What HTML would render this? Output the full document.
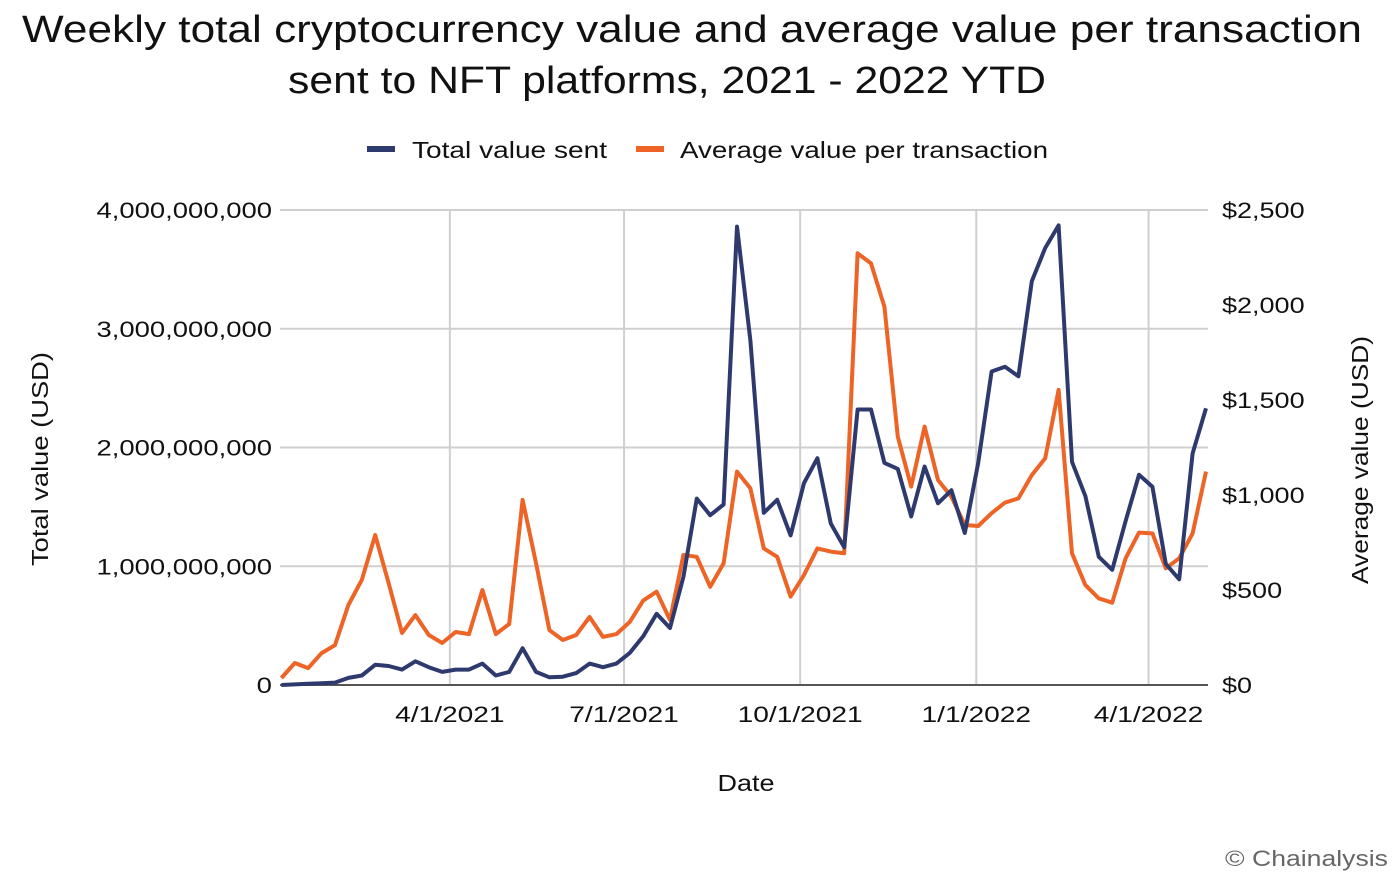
<!DOCTYPE html>
<html><head><meta charset="utf-8"><style>
body{margin:0;background:#fff;}
svg text{font-family:"Liberation Sans",sans-serif;fill:#111;}
</style></head><body>
<svg id="chart" width="1400" height="884" viewBox="0 0 1400 884" xmlns="http://www.w3.org/2000/svg">
<text x="22" y="42" font-size="38" textLength="1340" lengthAdjust="spacingAndGlyphs">Weekly total cryptocurrency value and average value per transaction</text>
<text x="288" y="93" font-size="38" textLength="758" lengthAdjust="spacingAndGlyphs">sent to NFT platforms, 2021 - 2022 YTD</text>
<g>
<rect x="367" y="146" width="28" height="6" fill="#2e3a6e"/>
<text x="412" y="158" font-size="23" textLength="195" lengthAdjust="spacingAndGlyphs">Total value sent</text>
<rect x="636" y="146" width="28" height="6" fill="#ee6326"/>
<text x="680" y="158" font-size="23" textLength="368" lengthAdjust="spacingAndGlyphs">Average value per transaction</text>
</g>
<g id="grid"></g><g id="axes"></g><g id="series"></g>
<text transform="translate(48,459) rotate(-90)" text-anchor="middle" font-size="23" textLength="214" lengthAdjust="spacingAndGlyphs">Total value (USD)</text>
<text transform="translate(1368,460) rotate(-90)" text-anchor="middle" font-size="23" textLength="248" lengthAdjust="spacingAndGlyphs">Average value (USD)</text>
<text x="746" y="791" text-anchor="middle" font-size="23" textLength="57" lengthAdjust="spacingAndGlyphs">Date</text>
<text x="1388" y="866" text-anchor="end" font-size="22" textLength="163" lengthAdjust="spacingAndGlyphs" style="fill:#666">© Chainalysis</text>
</svg>
<script>
const totalValue=[0,0.005,0.01,0.015,0.02,0.06,0.08,0.17,0.16,0.13,0.2,0.15,0.11,0.13,0.13,0.18,0.08,0.11,0.31,0.11,0.065,0.07,0.1,0.18,0.15,0.18,0.27,0.41,0.6,0.48,0.91,1.57,1.43,1.52,3.86,2.9,1.45,1.56,1.26,1.7,1.91,1.36,1.16,2.32,2.32,1.87,1.82,1.42,1.84,1.53,1.64,1.28,1.87,2.64,2.68,2.6,3.4,3.68,3.87,1.88,1.59,1.08,0.97,1.38,1.77,1.67,1.02,0.89,1.95,2.33];
const avgValue=[37,116,89,168,210,421,553,789,537,274,368,263,221,279,268,500,268,321,974,642,289,237,263,358,253,268,332,444,491,342,684,675,517,640,1123,1035,719,675,465,579,719,702,693,2272,2219,1991,1307,1044,1360,1079,991,842,837,904,960,982,1105,1193,1553,693,526,456,433,667,802,798,614,667,798,1123];
const leftTicks=[0,1,2,3,4];
const leftTickLabels=["0","1,000,000,000","2,000,000,000","3,000,000,000","4,000,000,000"];
const rightTicks=[0,500,1000,1500,2000,2500];
const rightTickLabels=["$0","$500","$1,000","$1,500","$2,000","$2,500"];
const xTicks=["2021-04-01","2021-07-01","2021-10-01","2022-01-01","2022-04-01"];
const xTickLabels=["4/1/2021","7/1/2021","10/1/2021","1/1/2022","4/1/2022"];
const startDate="2021-01-03";

const NS="http://www.w3.org/2000/svg";
const X0=281.4,PXDAY=13.4/7,Y0=685,YTOP=210,L=280,R=1208;
const t0=Date.parse(startDate);
function xDate(s){return X0+(Date.parse(s)-t0)/864e5*PXDAY;}
function xIdx(i){return X0+i*7*PXDAY;}
function yL(v){return Y0-v/4*(Y0-YTOP);}
function yR(v){return Y0-v/2500*(Y0-YTOP);}
function mk(tag,attrs,parent){const e=document.createElementNS(NS,tag);for(const k in attrs)e.setAttribute(k,attrs[k]);parent.appendChild(e);return e;}
function widen(t,f){const w=t.getComputedTextLength();t.setAttribute('textLength',(w*f).toFixed(1));t.setAttribute('lengthAdjust','spacingAndGlyphs');}
const grid=document.getElementById('grid'),axes=document.getElementById('axes'),ser=document.getElementById('series');
leftTicks.forEach((v,i)=>{
  if(v>0){const g=mk('line',{x1:L,x2:R,y1:yL(v),y2:yL(v),stroke:'#cfcfcf','stroke-width':2},grid);
  
  }
  const t=mk('text',{x:272,y:yL(v)+8,'text-anchor':'end','font-size':22.5},axes);t.textContent=leftTickLabels[i];
  
  
  widen(t,1.22);
});
rightTicks.forEach((v,i)=>{
  const t=mk('text',{x:1222,y:yR(v)+8,'font-size':22.5},axes);t.textContent=rightTickLabels[i];
  
  
  widen(t,1.2);
});
xTicks.forEach((d,i)=>{
  const x=xDate(d);
  const g=mk('line',{x1:x,x2:x,y1:YTOP,y2:Y0,stroke:'#cfcfcf','stroke-width':2},grid);
  
  
  const t=mk('text',{x:x,y:722,'text-anchor':'middle','font-size':22.5},axes);t.textContent=xTickLabels[i];
  
  
  widen(t,1.25);
});
const base=mk('line',{x1:L,x2:R,y1:Y0,y2:Y0,stroke:'#555','stroke-width':2},axes);


const po=mk('polyline',{points:avgValue.map((v,i)=>xIdx(i).toFixed(1)+','+yR(v).toFixed(1)).join(' '),fill:'none',stroke:'#ee6326','stroke-width':4,'stroke-linejoin':'round'},ser);


const pn=mk('polyline',{points:totalValue.map((v,i)=>xIdx(i).toFixed(1)+','+yL(v).toFixed(1)).join(' '),fill:'none',stroke:'#2e3a6e','stroke-width':4,'stroke-linejoin':'round'},ser);


</script>
</body></html>
